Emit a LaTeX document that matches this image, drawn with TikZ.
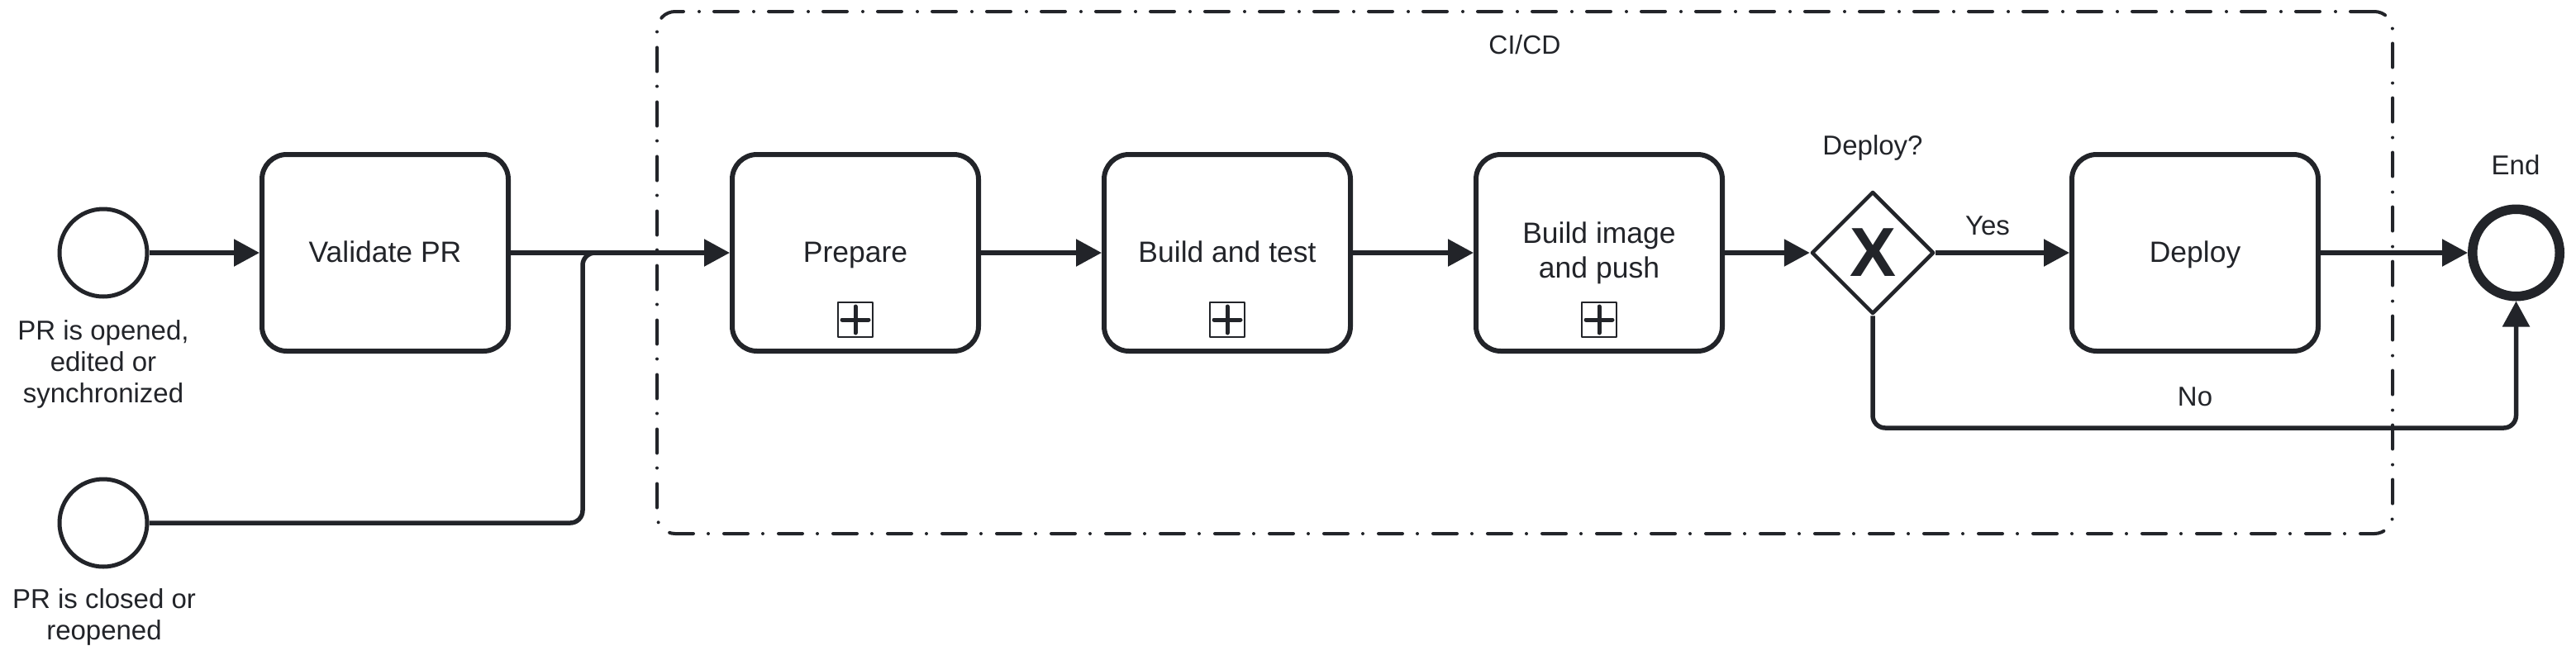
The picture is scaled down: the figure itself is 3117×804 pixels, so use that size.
\documentclass[tikz,border=0pt]{standalone}
\usepackage{fontspec}
\setmainfont{Liberation Sans}
\usetikzlibrary{arrows.meta,shapes.geometric}
\definecolor{ink}{RGB}{34,36,41}
\begin{document}
\begin{tikzpicture}[x=1pt,y=-1pt, color=ink, line join=round,
  evt/.style={circle, draw=ink, line width=5pt, minimum size=106pt, inner sep=0pt},
  endevt/.style={circle, draw=ink, line width=11.5pt, minimum size=105.5pt, inner sep=0pt},
  task/.style={rectangle, rounded corners=30pt, draw=ink, line width=6pt, minimum width=298pt, minimum height=238pt, inner sep=0pt, align=center, font=\fontsize{35.5}{42}\selectfont},
  oneline/.style={text height=26pt, text depth=4pt},
  gate/.style={diamond, draw=ink, line width=4.5pt, minimum width=148pt, minimum height=148pt, inner sep=0pt, font=\fontsize{84}{84}\selectfont\bfseries},
  lbl/.style={align=center, inner sep=0pt, font=\fontsize{33}{38}\selectfont},
  flow/.style={draw=ink, line width=5.5pt, -{Triangle[length=31pt,width=32pt]}},
  plainflow/.style={draw=ink, line width=5.5pt},
  submark/.style={rectangle, draw=ink, line width=2.5pt, minimum size=42pt, inner sep=0pt,
    path picture={\draw[ink, line width=5pt, line cap=round]
      ([xshift=-16pt]path picture bounding box.center) -- ([xshift=16pt]path picture bounding box.center)
      ([yshift=-16pt]path picture bounding box.center) -- ([yshift=16pt]path picture bounding box.center);}},
  grp/.style={rectangle, draw=ink, line width=4pt, line cap=round, dash pattern=on 29pt off 18pt on 0pt off 19pt, rounded corners=22pt, minimum width=2100pt, minimum height=632pt, inner sep=0pt}
]
\useasboundingbox (0,0) rectangle (3117,804);

% group
\node[grp] (cicd) at (1845,330) {};
\node[lbl, anchor=base, font=\fontsize{32}{38}\selectfont] (cicdlbl) at (1845,65) {CI/CD};

% events
\node[evt] (s1) at (125,306) {};
\node[evt] (s2) at (125,633) {};
\node[lbl, anchor=north] (s1lbl) at (125,387) {PR is opened,\\edited or\\synchronized};
\node[lbl, anchor=north] (s2lbl) at (126,712) {PR is closed or\\reopened};
\node[endevt] (end) at (3044.5,306) {};
\node[lbl, anchor=base] (endlbl) at (3044,211) {End};

% tasks
\node[task, oneline] (validate) at (466,306) {Validate PR};
\node[task, oneline] (prepare) at (1035,306) {Prepare};
\node[task, oneline] (buildtest) at (1485,306) {Build and test};
\node[task] (buildimg) at (1935,306) {Build image\\and push};
\node[task, oneline] (deploy) at (2656,306) {Deploy};

\node[submark] (pm1) at (1035,387) {};
\node[submark] (pm2) at (1485,387) {};
\node[submark] (pm3) at (1935,387) {};

% gateway
\node[gate] (gw) at (2266,306) {X};
\node[lbl, anchor=base] (gwlbl) at (2266,187) {Deploy?};

% flows
\coordinate (mergept) at (705,306);
\coordinate (mergeend) at (760,306);
\coordinate (nolevel) at (0,518);

\draw[flow] (s1.east) -- (validate.west);
\draw[flow] (validate.east) -- (prepare.west);
\draw[plainflow, rounded corners=15pt] (s2.east) -| (mergept) -- (mergeend);
\draw[flow] (prepare.east) -- (buildtest.west);
\draw[flow] (buildtest.east) -- (buildimg.west);
\draw[flow] (buildimg.east) -- (gw.west);
\draw[flow] (gw.east) -- (deploy.west);
\draw[flow] (deploy.east) -- (end.west);
\draw[flow, rounded corners=15pt] (gw.south) -- (gw.south |- nolevel) -| (end.south);

\node[lbl, anchor=base] (yeslbl) at (2405,284) {Yes};
\node[lbl, anchor=base] (nolbl) at (2656,491) {No};
\end{tikzpicture}
\end{document}
